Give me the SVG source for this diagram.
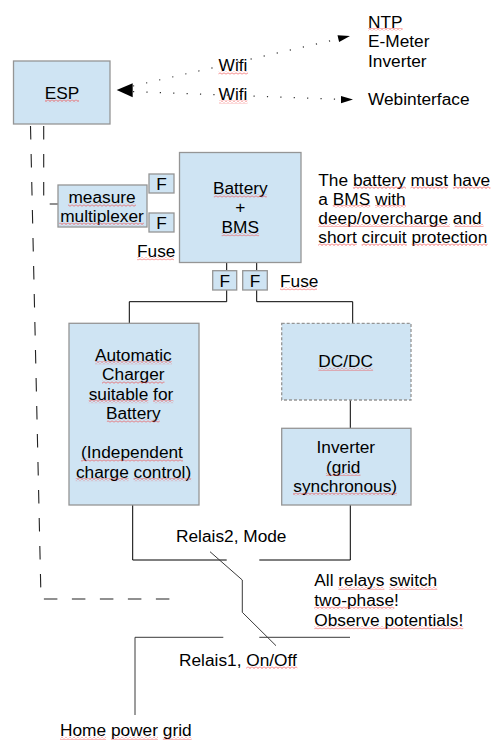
<svg xmlns="http://www.w3.org/2000/svg" width="501" height="743" viewBox="0 0 501 743">
<defs>
<style>
text{font-family:"Liberation Sans",Arial,sans-serif;font-size:17.3px;fill:#000}
.box{fill:#cfe4f3;stroke:#959595;stroke-width:1.3}
.dbox{fill:#cfe4f3;stroke:#959595;stroke-width:1.3;stroke-dasharray:3 2}
.c{fill:none;stroke:#000;stroke-width:1}
.g{fill:none;stroke:#3a3a3a;stroke-width:1}
.dash{fill:none;stroke:#222;stroke-width:1.1;stroke-dasharray:13.5 14.5}
.dot{fill:none;stroke:#333;stroke-width:1.2;stroke-dasharray:1.2 12.2}
.m{text-anchor:middle}
.sq{fill:url(#sq)}
</style>
<pattern id="sq" patternUnits="userSpaceOnUse" width="4" height="3">
<path d="M0,0.5 L2,2.5 L4,0.5" fill="none" stroke="#f04040" stroke-width="0.8"/>
</pattern>
</defs>
<rect width="501" height="743" fill="#fff"/>

<g id="connectors">
<path class="dash" d="M30.5,126 L41,599 H170"/>
<path class="dash" d="M43.7,126 V204 H58"/>
<path class="dot" d="M133,86 L338.3,39"/>
<path class="dot" d="M133,91.6 L341,99.4"/>
<polygon points="116.7,90 132.7,83.3 132.7,97.3" fill="#000"/>
<polygon points="350,36 339.1,42.1 337.5,35.3" fill="#000"/>
<polygon points="353,99.6 341,96 341,103.2" fill="#000"/>
<path class="c" d="M226.7,262.7 V270.7 M256.7,262.7 V270.7"/>
<path class="c" d="M226.7,290 V301.7 H129.3 V323.3"/>
<path class="c" d="M256.7,290 V301.7 H352.7 V323.3"/>
<path class="c" d="M350.3,400 V428.3"/>
<path class="c" d="M132.7,505 V560 H226.7"/>
<path class="c" d="M350.3,505 V560 H259.3"/>
<path class="g" d="M210,551.7 L242.3,580 V612.3 L276,645.7"/>
<path class="g" d="M223.3,637.3 H135 V715"/>
<path class="g" d="M259.3,637.3 H350"/>
<text x="233" y="71" class="m">Wifi</text>
<text x="233" y="100" class="m">Wifi</text>
</g>

<g id="esp">
<rect class="box" x="13.5" y="61" width="96.5" height="63"/>
<text x="62" y="98.8" class="m">ESP</text>
</g>

<g id="targets">
<text x="368" y="27.5">NTP</text>
<text x="368" y="47.4">E-Meter</text>
<text x="368" y="67.4">Inverter</text>
<text x="368" y="105">Webinterface</text>
</g>

<g id="multiplexer">
<rect class="box" x="58" y="185" width="89" height="42"/>
<text x="102" y="203.2" class="m">measure</text>
<text x="102" y="222" class="m">multiplexer</text>
</g>

<g id="fuse-top">
<rect class="box" x="149" y="174" width="25" height="19"/>
<text x="161.5" y="190" class="m">F</text>
</g>
<g id="fuse-mid">
<rect class="box" x="149" y="213" width="25" height="19"/>
<text x="161.5" y="228.5" class="m">F</text>
</g>
<text x="137" y="256.7">Fuse</text>

<g id="battery">
<rect class="box" x="179.5" y="152.5" width="121.5" height="110"/>
<text x="240.3" y="194" class="m">Battery</text>
<text x="240.3" y="213.3" class="m">+</text>
<text x="240.3" y="232.7" class="m">BMS</text>
</g>

<g id="fuse-left">
<rect class="box" x="212.7" y="270.7" width="24" height="19.3"/>
<text x="224.7" y="286.7" class="m">F</text>
</g>
<g id="fuse-right">
<rect class="box" x="242.7" y="270.7" width="24.6" height="19.3"/>
<text x="255" y="286.7" class="m">F</text>
</g>
<text x="280" y="286.7">Fuse</text>

<g id="note-battery">
<text x="318.3" y="185.5">The battery must have</text>
<text x="318.3" y="204.5">a BMS with</text>
<text x="318.3" y="223.5">deep/overcharge and</text>
<text x="318.3" y="242.7">short circuit protection</text>
</g>

<g id="charger">
<rect class="box" x="69" y="323.3" width="130" height="181.7"/>
<text x="133.3" y="360.7" class="m">Automatic</text>
<text x="133.3" y="380.2" class="m">Charger</text>
<text x="131" y="399.6" class="m">suitable for</text>
<text x="133.3" y="419" class="m">Battery</text>
<text x="132" y="458" class="m">(Independent</text>
<text x="133.6" y="477.6" class="m">charge control)</text>
</g>

<g id="dcdc">
<rect class="dbox" x="281.7" y="323.3" width="129.3" height="76.7"/>
<text x="345.7" y="367.4" class="m">DC/DC</text>
</g>

<g id="inverter">
<rect class="box" x="281.7" y="428.3" width="129.3" height="76.7"/>
<text x="345.8" y="453" class="m">Inverter</text>
<text x="343.2" y="472.5" class="m">(grid</text>
<text x="345.2" y="492" class="m">synchronous)</text>
</g>

<g id="labels">
<text x="176" y="541.7">Relais2, Mode</text>
<text x="179" y="665.7">Relais1, On/Off</text>
<text x="60" y="736.4">Home power grid</text>
<text x="314.3" y="586.4">All relays switch</text>
<text x="314.3" y="606">two-phase!</text>
<text x="314.3" y="625.7">Observe potentials!</text>
</g>

<g id="spellcheck">
<rect class="sq" x="45" y="99.3" width="34" height="3"/>
<rect class="sq" x="218.5" y="71.5" width="29.5" height="3"/>
<rect class="sq" x="219" y="100.5" width="28.5" height="3"/>
<rect class="sq" x="368" y="28" width="34.6" height="3"/>
<rect class="sq" x="68" y="203.7" width="68" height="3"/>
<rect class="sq" x="59" y="222.5" width="85" height="3"/>
<rect class="sq" x="213.8" y="194.5" width="53" height="3"/>
<rect class="sq" x="221.6" y="233.2" width="37.5" height="3"/>
<rect class="sq" x="137" y="257.2" width="37" height="3"/>
<rect class="sq" x="280" y="287.2" width="37" height="3"/>
<rect class="sq" x="352.9" y="186" width="53" height="3"/>
<rect class="sq" x="410.6" y="186" width="37.5" height="3"/>
<rect class="sq" x="452.9" y="186" width="37.5" height="3"/>
<rect class="sq" x="332.7" y="205" width="37.5" height="3"/>
<rect class="sq" x="375" y="205" width="30.8" height="3"/>
<rect class="sq" x="318.3" y="224" width="131.5" height="3"/>
<rect class="sq" x="454.6" y="224" width="28.9" height="3"/>
<rect class="sq" x="318.3" y="243.2" width="38.5" height="3"/>
<rect class="sq" x="361.6" y="243.2" width="45.2" height="3"/>
<rect class="sq" x="411.6" y="243.2" width="76" height="3"/>
<rect class="sq" x="95" y="361.2" width="77" height="3"/>
<rect class="sq" x="102" y="380.7" width="62.5" height="3"/>
<rect class="sq" x="88.7" y="400.1" width="59.6" height="3"/>
<rect class="sq" x="153.1" y="400.1" width="20.2" height="3"/>
<rect class="sq" x="106.9" y="419.5" width="52.9" height="3"/>
<rect class="sq" x="81" y="458.5" width="102" height="3"/>
<rect class="sq" x="75.7" y="478.1" width="52.9" height="3"/>
<rect class="sq" x="133.5" y="478.1" width="57.7" height="3"/>
<rect class="sq" x="318.3" y="367.9" width="54.8" height="3"/>
<rect class="sq" x="325.9" y="473" width="34.6" height="3"/>
<rect class="sq" x="293" y="492.5" width="104" height="3"/>
<rect class="sq" x="246.3" y="666.2" width="51" height="3"/>
<rect class="sq" x="338.3" y="586.9" width="46.1" height="3"/>
<rect class="sq" x="389.2" y="586.9" width="48.1" height="3"/>
<rect class="sq" x="314.3" y="606.5" width="80" height="3"/>
<rect class="sq" x="314.3" y="626.2" width="149" height="3"/>
<rect class="sq" x="60" y="736.9" width="46.1" height="3"/>
<rect class="sq" x="110.9" y="736.9" width="47.1" height="3"/>
<rect class="sq" x="162.8" y="736.9" width="28.8" height="3"/>
</g>
</svg>
